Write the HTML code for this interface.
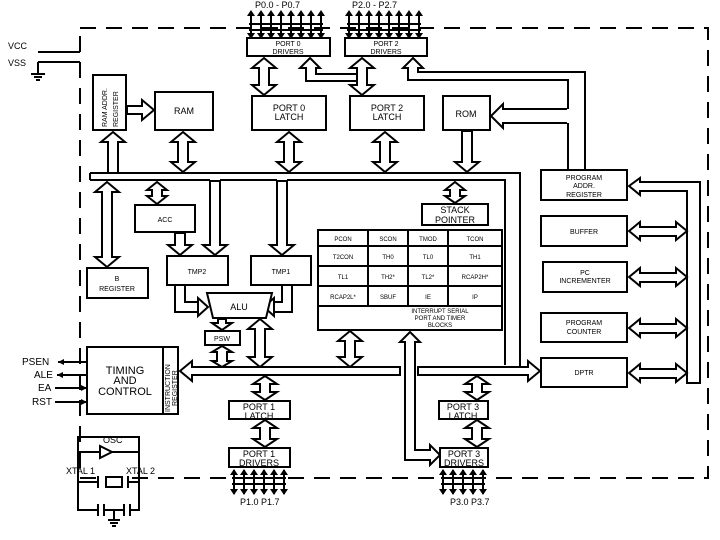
<!DOCTYPE html>
<html><head><meta charset="utf-8"><style>
html,body{margin:0;padding:0;background:#fff;width:720px;height:540px;overflow:hidden}
svg{display:block}
text{font-family:"Liberation Sans",sans-serif;font-size:9px;fill:#000}
.b{fill:#fff;stroke:#000;stroke-width:2}
.a{fill:#fff;stroke:#000;stroke-width:2;stroke-linejoin:miter}
.l{fill:none;stroke:#000;stroke-width:2}
.t{font-size:7px}
.s{font-size:6px}
</style></head><body>
<svg width="720" height="540" viewBox="0 0 720 540" xmlns="http://www.w3.org/2000/svg">
<path d="M80 28 H708 V478 H80 Z" fill="none" stroke="#000" stroke-width="2" stroke-dasharray="16,10"/>
<text x="8" y="49">VCC</text><text x="8" y="66">VSS</text>
<path class="l" d="M38 52 H80 M38 62 H80 M38 62 V74 M31 74 H45 M34 77 H42 M36 80 H40"/>
<text x="255" y="8">P0.0 - P0.7</text><text x="352" y="8">P2.0 - P2.7</text>
<g stroke="#000" stroke-width="2">
<path d="M251 14V38M261 14V38M271 14V38M281 14V38M291 14V38M301 14V38M311 14V38M321 14V38M249 24H323M249 30H323"/>
<path d="M349 14V38M359 14V38M369 14V38M379 14V38M389 14V38M399 14V38M409 14V38M419 14V38M347 24H421M347 30H421"/>
<path d="M234 470V494M244 470V494M254 470V494M264 470V494M274 470V494M284 470V494M232 478H286M232 484H286"/>
<path d="M443 470V494M453 470V494M463 470V494M473 470V494M483 470V494M441 478H485M441 484H485"/>
</g>
<g fill="#000">
<path d="M247 16l4-6 4 6zM257 16l4-6 4 6zM267 16l4-6 4 6zM277 16l4-6 4 6zM287 16l4-6 4 6zM297 16l4-6 4 6zM307 16l4-6 4 6zM317 16l4-6 4 6z"/>
<path d="M247 33l4 6 4-6zM257 33l4 6 4-6zM267 33l4 6 4-6zM277 33l4 6 4-6zM287 33l4 6 4-6zM297 33l4 6 4-6zM307 33l4 6 4-6zM317 33l4 6 4-6z"/>
<path d="M345 16l4-6 4 6zM355 16l4-6 4 6zM365 16l4-6 4 6zM375 16l4-6 4 6zM385 16l4-6 4 6zM395 16l4-6 4 6zM405 16l4-6 4 6zM415 16l4-6 4 6z"/>
<path d="M345 33l4 6 4-6zM355 33l4 6 4-6zM365 33l4 6 4-6zM375 33l4 6 4-6zM385 33l4 6 4-6zM395 33l4 6 4-6zM405 33l4 6 4-6zM415 33l4 6 4-6z"/>
<path d="M230 475l4-6 4 6zM240 475l4-6 4 6zM250 475l4-6 4 6zM260 475l4-6 4 6zM270 475l4-6 4 6zM280 475l4-6 4 6z"/>
<path d="M230 489l4 6 4-6zM240 489l4 6 4-6zM250 489l4 6 4-6zM260 489l4 6 4-6zM270 489l4 6 4-6zM280 489l4 6 4-6z"/>
<path d="M439 475l4-6 4 6zM449 475l4-6 4 6zM459 475l4-6 4 6zM469 475l4-6 4 6zM479 475l4-6 4 6z"/>
<path d="M439 489l4 6 4-6zM449 489l4 6 4-6zM459 489l4 6 4-6zM469 489l4 6 4-6zM479 489l4 6 4-6z"/>
</g>
<text x="240" y="505">P1.0   P1.7</text><text x="450" y="505">P3.0   P3.7</text>

<path class="a" d="M310 58 L320 68 L316 68 L316 74 L362 74 L362 81 L306 81 L306 68 L300 68 Z"/>
<path class="a" d="M413 58 L423 68 L418 68 L418 72 L585 72 L585 170 L568 170 L568 80 L408 80 L408 68 L403 68 Z"/>
<path d="M491 116 L503 104 L503 109 L569 109 L569 123 L503 123 L503 128 Z" fill="#fff"/>
<path class="l" d="M567 109 H503 V104 L491 116 L503 128 V123 H567"/>

<rect class="b" x="247" y="38" width="83" height="18"/><text class="t" x="288" y="46" text-anchor="middle">PORT 0</text><text class="t" x="288" y="54" text-anchor="middle">DRIVERS</text>
<rect class="b" x="345" y="38" width="82" height="18"/><text class="t" x="386" y="46" text-anchor="middle">PORT 2</text><text class="t" x="386" y="54" text-anchor="middle">DRIVERS</text>
<rect class="b" x="93" y="75" width="33" height="55"/><text class="t" transform="translate(107 127) rotate(-90)">RAM ADDR.</text><text class="t" transform="translate(118 127) rotate(-90)">REGISTER</text>
<rect class="b" x="155" y="92" width="58" height="38"/><text x="184" y="114" text-anchor="middle">RAM</text>
<rect class="b" x="252" y="96" width="74" height="34"/><text x="289" y="111" text-anchor="middle">PORT 0</text><text x="289" y="120" text-anchor="middle">LATCH</text>
<rect class="b" x="350" y="96" width="74" height="34"/><text x="387" y="111" text-anchor="middle">PORT 2</text><text x="387" y="120" text-anchor="middle">LATCH</text>
<rect class="b" x="443" y="96" width="47" height="34"/><text x="466" y="117" text-anchor="middle">ROM</text>

<path class="a" d="M127 106 H142 V100 L154 110 L142 120 V114 H127 Z"/>
<path class="a" d="M264 58 L276 68 L269 68 L269 85 L276 85 L264 95 L252 85 L259 85 L259 68 L252 68 Z"/>
<path class="a" d="M362 58 L374 68 L367 68 L367 85 L374 85 L362 95 L350 85 L357 85 L357 68 L350 68 Z"/>
<path class="a" d="M183 132 L195 142 L188 142 L188 162 L195 162 L183 172 L171 162 L178 162 L178 142 L171 142 Z"/>
<path class="a" d="M289 132 L301 142 L294 142 L294 162 L301 162 L289 172 L277 162 L284 162 L284 142 L277 142 Z"/>
<path class="a" d="M385 132 L397 142 L390 142 L390 162 L397 162 L385 172 L373 162 L380 162 L380 142 L373 142 Z"/>
<path class="a" d="M462 131 L472 131 L472 162 L479 162 L467 172 L455 162 L462 162 Z"/>
<path class="a" d="M113 132 L125 142 L118 142 L118 173 L108 173 L108 142 L101 142 Z"/>

<path class="l" d="M90 173 H520 V368 M90 180 H210 M220 180 H277 M287 180 H505 V365"/>
<path d="M90 173 V180" class="l"/>
<path class="a" d="M107 182 L119 192 L112 192 L112 257 L119 257 L107 267 L95 257 L102 257 L102 192 L95 192 Z"/>
<path class="a" d="M157 182 L167 190 L162 190 L162 196 L167 196 L157 204 L147 196 L152 196 L152 190 L147 190 Z"/>
<path class="a" d="M210 181 L220 181 L220 245 L227 245 L215 255 L203 245 L210 245 Z"/>
<path class="a" d="M175 233 L185 233 L185 245 L192 245 L180 255 L168 245 L175 245 Z"/>
<path class="a" d="M277 181 L287 181 L287 245 L294 245 L282 255 L270 245 L277 245 Z"/>
<path class="a" d="M455 182 L465 190 L460 190 L460 196 L465 196 L455 203 L445 196 L450 196 L450 190 L445 190 Z"/>

<rect class="b" x="135" y="205" width="60" height="27"/><text class="t" x="165" y="222" text-anchor="middle">ACC</text>
<rect class="b" x="87" y="268" width="61" height="30"/><text class="t" x="117" y="281" text-anchor="middle">B</text><text class="t" x="117" y="291" text-anchor="middle">REGISTER</text>
<rect class="b" x="167" y="256" width="61" height="29"/><text class="t" x="197" y="274" text-anchor="middle">TMP2</text>
<rect class="b" x="251" y="256" width="60" height="29"/><text class="t" x="281" y="274" text-anchor="middle">TMP1</text>
<rect class="b" x="422" y="204" width="66" height="21"/><text x="455" y="213" text-anchor="middle">STACK</text><text x="455" y="223" text-anchor="middle">POINTER</text>

<path class="l" d="M175 286 V312 H200 M185 286 V302 H200 M292 286 V312 H272 M282 286 V302 H272"/>
<path class="a" d="M198 298 L208 307 L198 316 Z M274 298 L264 307 L274 316 Z"/>
<path class="b" d="M207 293 H272 L266 318 H213 Z"/><text x="239" y="310" text-anchor="middle">ALU</text>
<path class="a" d="M218 319 L226 319 L226 323 L232 323 L222 330 L212 323 L218 323 Z"/>
<rect class="b" x="205" y="331" width="35" height="14"/><text class="t" x="222" y="341" text-anchor="middle">PSW</text>
<path class="a" d="M222 346 L232 352 L227 352 L227 361 L232 361 L222 367 L212 361 L217 361 L217 352 L212 352 Z"/>
<path class="a" d="M260 319 L272 329 L265 329 L265 357 L272 357 L260 367 L248 357 L255 357 L255 329 L248 329 Z"/>

<rect class="b" x="318" y="230" width="184" height="100"/>
<path class="l" d="M318 246H502M318 266H502M318 286H502M318 306H502M368 230V306M408 230V306M448 230V306"/>
<text class="s" x="343" y="241" text-anchor="middle">PCON</text><text class="s" x="388" y="241" text-anchor="middle">SCON</text><text class="s" x="428" y="241" text-anchor="middle">TMOD</text><text class="s" x="475" y="241" text-anchor="middle">TCON</text>
<text class="s" x="343" y="259" text-anchor="middle">T2CON</text><text class="s" x="388" y="259" text-anchor="middle">TH0</text><text class="s" x="428" y="259" text-anchor="middle">TL0</text><text class="s" x="475" y="259" text-anchor="middle">TH1</text>
<text class="s" x="343" y="279" text-anchor="middle">TL1</text><text class="s" x="388" y="279" text-anchor="middle">TH2*</text><text class="s" x="428" y="279" text-anchor="middle">TL2*</text><text class="s" x="475" y="279" text-anchor="middle">RCAP2H*</text>
<text class="s" x="343" y="299" text-anchor="middle">RCAP2L*</text><text class="s" x="388" y="299" text-anchor="middle">SBUF</text><text class="s" x="428" y="299" text-anchor="middle">IE</text><text class="s" x="475" y="299" text-anchor="middle">IP</text>
<text class="s" x="440" y="313" text-anchor="middle">INTERRUPT SERIAL</text><text class="s" x="440" y="320" text-anchor="middle">PORT AND TIMER</text><text class="s" x="440" y="327" text-anchor="middle">BLOCKS</text>
<path class="a" d="M350 331 L362 341 L355 341 L355 357 L362 357 L350 367 L338 357 L345 357 L345 341 L338 341 Z"/>

<rect class="b" x="87" y="347" width="91" height="67"/><path class="l" d="M163 347V414"/>
<text x="125" y="374" text-anchor="middle" font-size="11" style="font-size:11px">TIMING</text><text x="125" y="384" text-anchor="middle" style="font-size:11px">AND</text><text x="125" y="395" text-anchor="middle" style="font-size:11px">CONTROL</text>
<text class="t" transform="translate(170 412) rotate(-90)">INSTRUCTION</text><text class="t" transform="translate(177 406) rotate(-90)">REGISTER</text>
<text x="22" y="365" style="font-size:10px">PSEN</text><text x="34" y="378" style="font-size:10px">ALE</text><text x="38" y="391" style="font-size:10px">EA</text><text x="32" y="405" style="font-size:10px">RST</text>
<path class="l" d="M58 362H87M57 375H87M55 388H87M55 402H87"/>
<path d="M58 362l6-3v6zM57 375l6-3v6zM87 388l-6-3v6zM87 402l-6-3v6z"/>

<path class="a" d="M180 371 L192 361 L192 367 L400 367 L400 375 L192 375 L192 381 Z"/>
<path class="a" d="M418 367 L528 367 L528 361 L540 371 L528 381 L528 375 L418 375 Z"/>
<path class="a" d="M410 332 L420 342 L415 342 L415 450 L430 450 L430 445 L440 455 L430 465 L430 460 L405 460 L405 342 L400 342 Z"/>
<path class="a" d="M265 376 L277 384 L270 384 L270 392 L277 392 L265 400 L253 392 L260 392 L260 384 L253 384 Z"/>
<path class="a" d="M265 420 L277 428 L270 428 L270 439 L277 439 L265 447 L253 439 L260 439 L260 428 L253 428 Z"/>
<path class="a" d="M477 376 L489 384 L482 384 L482 392 L489 392 L477 400 L465 392 L472 392 L472 384 L465 384 Z"/>
<path class="a" d="M477 420 L489 428 L482 428 L482 439 L489 439 L477 447 L465 439 L472 439 L472 428 L465 428 Z"/>

<rect class="b" x="229" y="401" width="61" height="18"/><text x="259" y="410" text-anchor="middle">PORT 1</text><text x="259" y="419" text-anchor="middle">LATCH</text>
<rect class="b" x="229" y="448" width="61" height="19"/><text x="259" y="457" text-anchor="middle">PORT 1</text><text x="259" y="466" text-anchor="middle">DRIVERS</text>
<rect class="b" x="439" y="401" width="49" height="18"/><text x="463" y="410" text-anchor="middle">PORT 3</text><text x="463" y="419" text-anchor="middle">LATCH</text>
<rect class="b" x="440" y="448" width="48" height="19"/><text x="464" y="457" text-anchor="middle">PORT 3</text><text x="464" y="466" text-anchor="middle">DRIVERS</text>

<rect class="b" x="541" y="170" width="86" height="30"/><text class="t" x="584" y="180" text-anchor="middle">PROGRAM</text><text class="t" x="584" y="188" text-anchor="middle">ADDR.</text><text class="t" x="584" y="197" text-anchor="middle">REGISTER</text>
<rect class="b" x="541" y="216" width="86" height="30"/><text class="t" x="584" y="234" text-anchor="middle">BUFFER</text>
<rect class="b" x="543" y="262" width="84" height="30"/><text class="t" x="585" y="275" text-anchor="middle">PC</text><text class="t" x="585" y="283" text-anchor="middle">INCREMENTER</text>
<rect class="b" x="541" y="313" width="86" height="29"/><text class="t" x="584" y="325" text-anchor="middle">PROGRAM</text><text class="t" x="584" y="334" text-anchor="middle">COUNTER</text>
<rect class="b" x="541" y="358" width="86" height="29"/><text class="t" x="584" y="375" text-anchor="middle">DPTR</text>
<path class="a" d="M629 186 L640 178 L640 182 L700 182 L700 383 L687 383 L687 191 L640 191 L640 195 Z"/>
<path class="a" d="M629 231 L640 222 L640 227 L676 227 L676 222 L687 231 L676 240 L676 236 L640 236 L640 240 Z"/>
<path class="a" d="M629 277 L640 268 L640 273 L676 273 L676 268 L687 277 L676 286 L676 282 L640 282 L640 286 Z"/>
<path class="a" d="M629 328 L640 319 L640 324 L676 324 L676 319 L687 328 L676 337 L676 333 L640 333 L640 337 Z"/>
<path class="a" d="M629 373 L640 364 L640 369 L676 369 L676 364 L687 373 L676 382 L676 378 L640 378 L640 382 Z"/>

<text x="103" y="443">OSC</text>
<path class="l" d="M78 482V437H139V482M78 452H100M112 452H139M78 482H96M130 482H139M78 482V510H96M130 510H139V482"/>
<path class="b" d="M100 446 L112 452 L100 458 Z"/>
<text x="66" y="474">XTAL 1</text><text x="126" y="474">XTAL 2</text>
<rect class="b" x="106" y="477" width="16" height="10"/>
<path class="l" d="M98 476V488M128 476V488M96 482H98M128 482H130M98 504V516M104 504V516M124 504V516M130 504V516M104 510H124M96 510H98M130 510H139M114 510V520M108 520H120M110 523H118M112 526H116"/>
</svg>
</body></html>
